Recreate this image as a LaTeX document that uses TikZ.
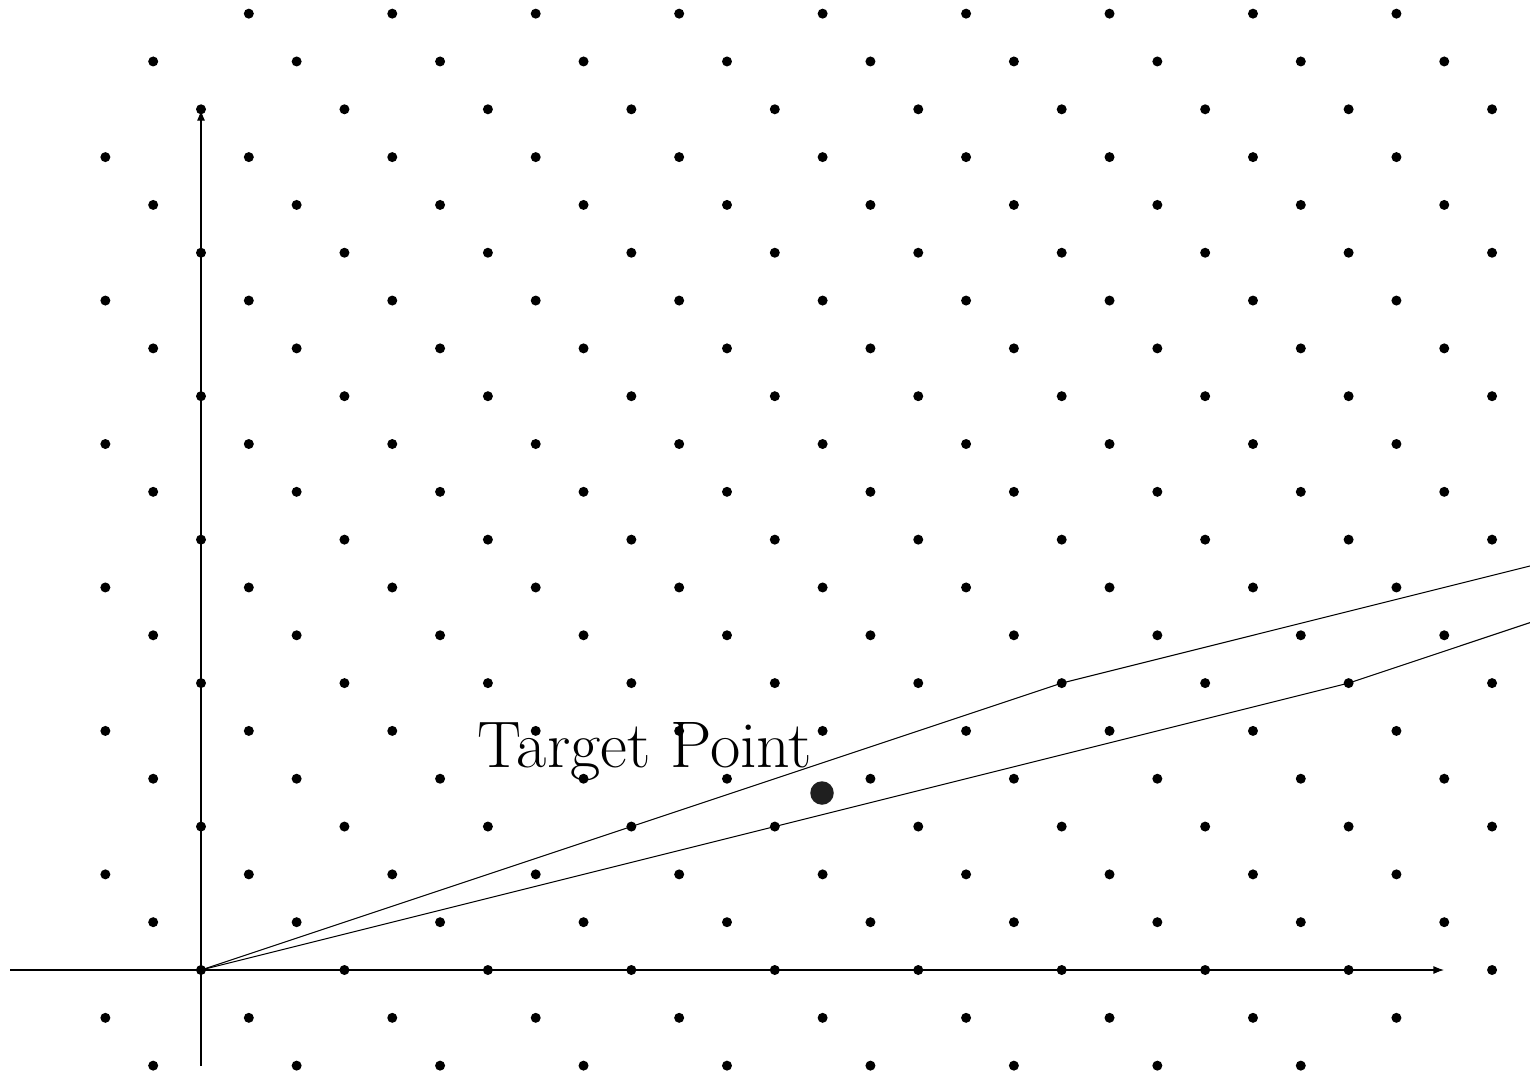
\documentclass[tikz,border=0pt]{standalone}
\usetikzlibrary{arrows.meta}
\begin{document}
\begin{tikzpicture}[x={(0.02cm,0)},y={(0,-0.02cm)},
  axis/.style={line width=0.6pt,-{Latex[length=6pt,width=4.5pt]}},
  ray/.style={line width=0.6pt,line join=round},
  latdot/.style={circle,fill=black,inner sep=0pt,minimum size=0.2cm},
  bigdot/.style={circle,fill=black!88,inner sep=0pt,minimum size=0.47cm},
  lbl/.style={inner sep=0pt,font=\fontsize{37.5}{42}\selectfont}]
\useasboundingbox (0,0) rectangle (1530,1074);
\coordinate (O) at (201,970);
\coordinate (xs) at (10,970);
\coordinate (xe) at (1444,970);
\coordinate (ys) at (201,1066);
\coordinate (ye) at (201,110);
% lattice vertices of the two paths
\coordinate (v1) at (1061.7,683.1);
\coordinate (w1) at (1635.5,539.6);
\coordinate (v2) at (1348.6,683.1);
\coordinate (w2) at (1779.0,539.6);
% label
\node[lbl,anchor=base] (label) at (645,767) {Target Point};
% axes
\draw[axis] (xs) -- (xe);
\draw[axis] (ys) -- (ye);
% paths
\begin{scope}
\clip (0,0) rectangle (1530,1074);
\draw[ray] (O) -- (v1) -- (w1);
\draw[ray] (O) -- (v2) -- (w2);
\end{scope}
% lattice
\begin{scope}
\clip (90,0) rectangle (1510,1074);
\foreach \b in {-2,...,20}{
  \foreach \a in {-2,...,16}{
    \pgfmathtruncatemacro{\skip}{(\a==6 && \b==20) || (\a==8 && \b==-2) ? 1 : 0}
    \ifnum\skip=0
      \pgfmathsetmacro{\px}{201+143.45*(\a-\b/3)}
      \pgfmathsetmacro{\py}{970-47.817*\b}
      \node[latdot] (p\a x\b) at (\px,\py) {};
    \fi
  }
}
\end{scope}
% target
\node[bigdot] (target) at (822,793) {};
\end{tikzpicture}
\end{document}
